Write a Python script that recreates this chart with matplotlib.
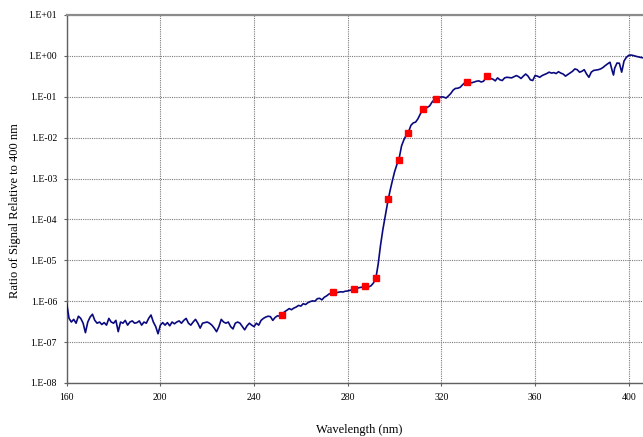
import matplotlib
matplotlib.use("Agg")
import matplotlib.pyplot as plt
from matplotlib.ticker import NullLocator

# ---- data ----
wavelength = [
    160, 161, 162, 163, 164, 165, 166, 167, 168, 169, 170, 171, 172, 173, 174, 175, 176, 177, 178, 179,
    180, 181, 182, 183, 184, 185, 186, 187, 188, 189, 190, 191, 192, 193, 194, 195, 196, 197, 198, 199,
    200, 201, 202, 203, 204, 205, 206, 207, 208, 209, 210, 211, 212, 213, 214, 215, 216, 217, 218, 219,
    220, 221, 222, 223, 224, 225, 226, 227, 228, 229, 230, 231, 232, 233, 234, 235, 236, 237, 238, 239,
    240, 241, 242, 243, 244, 245, 246, 247, 248, 249, 250, 251, 252, 253, 254, 255, 256, 257, 258, 259,
    260, 261, 262, 263, 264, 265, 266, 267, 268, 269, 270, 271, 272, 273, 274, 275, 276, 277, 278, 279,
    280, 281, 282, 283, 284, 285, 286, 287, 288, 289, 290, 291, 292, 293, 294, 295, 296, 297, 298, 299,
    300, 301, 302, 303, 304, 305, 306, 307, 308, 309, 310, 311, 312, 313, 314, 315, 316, 317, 318, 319,
    320, 321, 322, 323, 324, 325, 326, 327, 328, 329, 330, 331, 332, 333, 334, 335, 336, 337, 338, 339,
    340, 341, 342, 343, 344, 345, 346, 347, 348, 349, 350, 351, 352, 353, 354, 355, 356, 357, 358, 359,
    360, 361, 362, 363, 364, 365, 366, 367, 368, 369, 370, 371, 372, 373, 374, 375, 376, 377, 378, 379,
    380, 381, 382, 383, 384, 385, 386, 387, 388, 389, 390, 391, 392, 393, 393.5, 394, 395, 396, 397, 398,
    399, 400, 401, 402, 403, 404, 405, 406,
]
signal_ratio = [
    8.8e-7, 3.8e-7, 3.1e-7, 3.6e-7, 2.9e-7, 4.3e-7, 3.8e-7, 2.9e-7, 1.7e-7, 3.1e-7,
    4.1e-7, 4.8e-7, 3.4e-7, 2.9e-7, 3.1e-7, 2.7e-7, 3.0e-7, 2.6e-7, 3.8e-7, 3.1e-7,
    2.9e-7, 3.4e-7, 1.8e-7, 3.1e-7, 2.9e-7, 3.4e-7, 2.6e-7, 3.1e-7, 3.3e-7, 2.9e-7,
    3.0e-7, 3.3e-7, 2.6e-7, 3.1e-7, 2.9e-7, 3.8e-7, 4.6e-7, 3.1e-7, 2.4e-7, 1.6e-7,
    2.6e-7, 3.0e-7, 2.6e-7, 3.0e-7, 2.5e-7, 3.1e-7, 2.8e-7, 3.1e-7, 3.3e-7, 2.9e-7,
    3.4e-7, 3.8e-7, 2.9e-7, 2.6e-7, 3.1e-7, 3.6e-7, 2.9e-7, 2.2e-7, 2.9e-7, 3.0e-7,
    3.1e-7, 2.9e-7, 2.6e-7, 2.2e-7, 1.8e-7, 2.4e-7, 3.6e-7, 3.1e-7, 2.9e-7, 3.1e-7,
    2.4e-7, 2.1e-7, 2.9e-7, 3.1e-7, 2.9e-7, 2.4e-7, 2.0e-7, 2.5e-7, 2.9e-7, 2.6e-7,
    2.4e-7, 2.9e-7, 2.6e-7, 3.4e-7, 3.8e-7, 4.1e-7, 4.3e-7, 4.2e-7, 3.4e-7, 4.0e-7,
    4.4e-7, 4.3e-7, 4.8e-7, 5.5e-7, 6.0e-7, 6.6e-7, 6.2e-7, 6.8e-7, 7.2e-7, 7.9e-7,
    7.6e-7, 8.7e-7, 8.3e-7, 9.2e-7, 9.8e-7, 1.02e-6, 1.0e-6, 1.15e-6, 1.18e-6, 1.08e-6,
    1.25e-6, 1.35e-6, 1.5e-6, 1.58e-6, 1.62e-6, 1.6e-6, 1.66e-6, 1.7e-6, 1.68e-6, 1.76e-6,
    1.78e-6, 1.85e-6, 1.9e-6, 2.0e-6, 2.08e-6, 2.15e-6, 2.2e-6, 2.28e-6, 2.3e-6, 2.25e-6,
    2.4e-6, 2.8e-6, 3.6e-6, 8.0e-6, 2.3e-5, 5.6e-5, 1.2e-4, 2.5e-4, 4.8e-4, 8.5e-4,
    1.45e-3, 2.2e-3, 3.2e-3, 6.3e-3, 8.9e-3, 1.15e-2, 1.4e-2, 2.0e-2, 2.3e-2, 2.4e-2,
    2.9e-2, 3.8e-2, 4.8e-2, 5.3e-2, 5.5e-2, 6.0e-2, 7.4e-2, 8.5e-2, 9.0e-2, 9.5e-2,
    1.0e-1, 9.8e-2, 9.3e-2, 1.05e-1, 1.2e-1, 1.45e-1, 1.6e-1, 1.62e-1, 1.7e-1, 1.95e-1,
    2.2e-1, 2.3e-1, 2.25e-1, 2.2e-1, 2.3e-1, 2.4e-1, 2.45e-1, 2.3e-1, 2.4e-1, 2.9e-1,
    3.2e-1, 2.8e-1, 2.7e-1, 2.45e-1, 2.9e-1, 2.6e-1, 2.5e-1, 2.9e-1, 3.0e-1, 2.95e-1,
    2.9e-1, 3.1e-1, 3.3e-1, 3.1e-1, 2.8e-1, 3.2e-1, 3.6e-1, 3.2e-1, 2.6e-1, 2.5e-1,
    3.3e-1, 3.2e-1, 3.0e-1, 3.3e-1, 3.5e-1, 3.7e-1, 4.0e-1, 3.8e-1, 3.9e-1, 3.7e-1,
    4.1e-1, 3.8e-1, 3.6e-1, 3.2e-1, 3.5e-1, 3.8e-1, 4.2e-1, 4.8e-1, 4.6e-1, 4.0e-1,
    4.2e-1, 4.6e-1, 3.6e-1, 3.0e-1, 4.0e-1, 4.4e-1, 4.5e-1, 4.6e-1, 4.8e-1, 5.2e-1,
    5.8e-1, 6.4e-1, 7.0e-1, 4.2e-1, 3.4e-1, 5.0e-1, 6.7e-1, 6.6e-1, 4.0e-1, 7.5e-1,
    9.2e-1, 1.03, 1.05, 1.02, 0.98, 0.95, 0.92, 0.90,
]

marker_wavelength = [252.0, 273.6, 282.9, 287.5, 292.2, 297.3, 301.9, 305.8, 312.2, 317.5, 330.9, 339.6]
marker_ratio = [4.7e-7, 1.66e-6, 2.0e-6, 2.3e-6, 3.8e-6, 3.1e-4, 2.9e-3, 1.32e-2, 5.0e-2, 8.6e-2, 0.224, 0.32]

x_ticks = [160, 200, 240, 280, 320, 360, 400]
y_ticks = [1e-8, 1e-7, 1e-6, 1e-5, 1e-4, 1e-3, 1e-2, 1e-1, 1e0, 1e1]
y_tick_labels = ["1.E-08", "1.E-07", "1.E-06", "1.E-05", "1.E-04",
                 "1.E-03", "1.E-02", "1.E-01", "1.E+00", "1.E+01"]

# ---- figure ----
plt.rcParams["font.family"] = ["Liberation Serif", "DejaVu Serif"]
W, H = 643, 437
fig = plt.figure(figsize=(W / 100, H / 100), dpi=100)
left, right, top, bottom = 66.7, 643, 15, 383
ax = fig.add_axes([left / W, 1 - bottom / H, (right - left) / W, (bottom - top) / H])

ax.plot(wavelength, signal_ratio, color="#0a0a80", lw=1.2, zorder=3)
ax.plot(marker_wavelength, marker_ratio, ls="none", marker="s", ms=4.3,
        mfc="#ff0000", mec="#ff0000", zorder=4)

ax.set_yscale("log")
ax.set_xlim(160, 406.1)
ax.set_ylim(1e-8, 1e1)
ax.set_xticks(x_ticks)
ax.set_xticklabels([str(t) for t in x_ticks])
ax.set_yticks(y_ticks)
ax.set_yticklabels(y_tick_labels)
ax.yaxis.set_minor_locator(NullLocator())

ax.grid(True, which="major", color="#7a7a7a", linestyle=(0, (1, 1)), lw=0.8, zorder=1)
ax.tick_params(axis="both", direction="out", length=2.5, width=0.8, color="#606060",
               labelsize=7, labelcolor="#000000")
ax.tick_params(axis="y", pad=4.5)
ax.tick_params(axis="x", pad=5)

for s in ["left", "bottom"]:
    ax.spines[s].set_color("#606060")
    ax.spines[s].set_linewidth(1.0)
ax.spines["top"].set_color("#8c8c8c")
ax.spines["top"].set_linewidth(1.6)
ax.spines["right"].set_visible(False)

fig.text(359 / W, 1 - 430 / H, "Wavelength (nm)", ha="center", va="center", fontsize=9)
fig.text(15 / W, 1 - 211 / H, "Ratio of Signal Relative to 400 nm", ha="center", va="center",
         rotation=90, fontsize=9)

fig.savefig("out.png", dpi=100)
